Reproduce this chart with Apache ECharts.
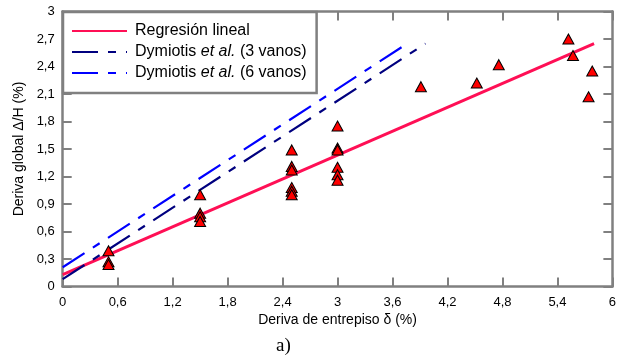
<!DOCTYPE html>
<html>
<head>
<meta charset="utf-8">
<script src="https://cdn.jsdelivr.net/npm/echarts@6/dist/echarts.min.js"></script>
<style>
html,body{margin:0;padding:0;background:#fff;}
#chart{width:619px;height:362px;}
</style>
</head>
<body>
<div id="chart"></div>
<script>
// ---- data ----
const xTickLabels = ['0','0,6','1,2','1,8','2,4','3','3,6','4,2','4,8','5,4','6'];
const yTickLabels = ['0','0,3','0,6','0,9','1,2','1,5','1,8','2,1','2,4','2,7','3'];

const obsX = [0.5,0.5,0.5, 1.5,1.5,1.5,1.5, 2.5,2.5,2.5,2.5,2.5,2.5, 3,3,3,3,3,3, 3.91,4.52,4.76,5.52,5.57,5.78,5.74];
const obsY = [0.39,0.27,0.24, 1.00,0.80,0.76,0.71, 1.49,1.31,1.27,1.08,1.04,1.00, 1.75,1.51,1.49,1.30,1.22,1.16, 2.18,2.22,2.42,2.70,2.52,2.35,2.07];

const regX = [0, 5.8];
const regY = [0.13, 2.65];
const dym3X = [0, 3.96];
const dym3Y = [0.08, 2.65];
const dym6X = [0, 3.76];
const dym6Y = [0.21, 2.65];

const seriesNames = ['Regresión lineal', 'Dymiotis et al. (3 vanos)', 'Dymiotis et al. (6 vanos)'];

// ---- chart ----
const zip = (a, b) => a.map((v, i) => [v, b[i]]);
const FONT = "'Liberation Sans', Arial, sans-serif";
const GRAY = '#808080';

const chart = echarts.init(document.getElementById('chart'), null, {renderer: 'canvas'});

const baseX = {
  type: 'value', min: 0, max: 6, interval: 0.6,
  axisLine: {show: true, onZero: false, lineStyle: {color: GRAY, width: 2.5}},
  axisTick: {show: true, inside: true, length: 9, lineStyle: {color: GRAY, width: 2}},
  splitLine: {show: false}
};
const baseY = {
  type: 'value', min: 0, max: 3, interval: 0.3,
  axisLine: {show: true, onZero: false, lineStyle: {color: GRAY, width: 2.5}},
  axisTick: {show: true, inside: true, length: 9, lineStyle: {color: GRAY, width: 2}},
  splitLine: {show: false}
};

const option = {
  backgroundColor: '#fff',
  animation: false,
  textStyle: {fontFamily: FONT},
  grid: {left: 62.7, right: 6.3, top: 11.5, bottom: 75.5, containLabel: false},
  xAxis: [
    Object.assign({}, baseX, {
      position: 'bottom',
      name: 'Deriva de entrepiso δ (%)',
      nameLocation: 'middle', nameGap: 23,
      nameTextStyle: {fontSize: 14, color: '#000', fontFamily: FONT},
      axisLabel: {show: true, margin: 9, fontSize: 13, color: '#000', fontFamily: FONT,
        formatter: v => xTickLabels[Math.round(v / 0.6)]}
    }),
    Object.assign({}, baseX, {position: 'top', axisLabel: {show: false}})
  ],
  yAxis: [
    Object.assign({}, baseY, {
      position: 'left',
      name: 'Deriva global Δ/H (%)',
      nameLocation: 'middle', nameGap: 31, nameRotate: 90,
      nameTextStyle: {fontSize: 14, color: '#000', fontFamily: FONT},
      axisLabel: {show: true, margin: 8, fontSize: 13, color: '#000', fontFamily: FONT,
        formatter: v => yTickLabels[Math.round(v / 0.3)]}
    }),
    Object.assign({}, baseY, {position: 'right', axisLabel: {show: false}})
  ],
  legend: {
    data: seriesNames,
    orient: 'vertical',
    left: 63, top: 12,
    padding: [11, 10, 12, 8],
    itemWidth: 55, itemHeight: 14, itemGap: 5,
    backgroundColor: '#fff',
    borderColor: GRAY, borderWidth: 2.5,
    z: 10,
    itemStyle: {color: 'rgba(0,0,0,0)', borderColor: 'rgba(0,0,0,0)', borderWidth: 0},
    textStyle: {
      fontSize: 16, color: '#000', fontFamily: FONT, padding: [0, 0, 0, 3],
      rich: {
        n: {fontSize: 16, color: '#000', fontFamily: FONT},
        i: {fontSize: 16, color: '#000', fontFamily: FONT, fontStyle: 'italic'}
      }
    },
    formatter: name => {
      const m = name.match(/^(Dymiotis )(et al\.)( .*)$/);
      if (m) return '{n|' + m[1] + '}{i|' + m[2] + '}{n|' + m[3] + '}';
      return '{n|' + name + '}';
    }
  },
  series: [
    {
      name: seriesNames[0], type: 'line', data: zip(regX, regY),
      symbol: 'none', z: 3,
      lineStyle: {color: '#ff0f55', width: 3},
      itemStyle: {color: '#ff0f55'}
    },
    {
      name: seriesNames[1], type: 'line', data: zip(dym3X, dym3Y),
      symbol: 'none', z: 3,
      lineStyle: {color: '#00007f', width: 2.2, type: [26, 10, 8, 10]},
      itemStyle: {color: '#00007f'}
    },
    {
      name: seriesNames[2], type: 'line', data: zip(dym6X, dym6Y),
      symbol: 'none', z: 3,
      lineStyle: {color: '#0000ff', width: 2.2, type: [26, 10, 8, 10]},
      itemStyle: {color: '#0000ff'}
    },
    {
      name: 'Datos', type: 'scatter', data: zip(obsX, obsY),
      symbol: 'triangle', symbolSize: [11, 10], z: 4,
      itemStyle: {color: '#ff0000', borderColor: '#000', borderWidth: 1, opacity: 1}
    }
  ],
  graphic: [
    {
      type: 'text', left: 276, top: 337, z: 20,
      style: {text: 'a)', fontSize: 19, fontFamily: "'Liberation Serif', 'Times New Roman', serif", fill: '#000'}
    }
  ]
};

chart.setOption(option);
</script>
</body>
</html>
